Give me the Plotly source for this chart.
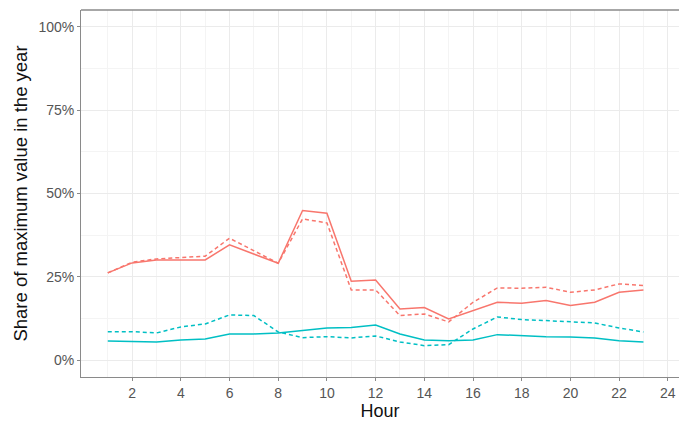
import plotly.graph_objects as go

hours = list(range(1, 24))
red_solid = [26.2, 29.2, 30.1, 30.1, 30.1, 34.6, 31.8, 29.1, 44.9, 44.1, 23.7, 24.1,
             15.4, 15.8, 12.4, 14.9, 17.4, 17.1, 17.9, 16.4, 17.4, 20.4, 21.1]
red_dashed = [26.2, 29.4, 30.4, 30.7, 31.2, 36.6, 32.9, 29.1, 42.4, 41.2, 21.1, 21.1,
              13.4, 13.9, 11.5, 17.4, 21.7, 21.6, 21.9, 20.4, 21.1, 22.9, 22.4]
teal_solid = [5.8, 5.6, 5.5, 6.1, 6.4, 7.9, 7.9, 8.2, 8.9, 9.7, 9.8, 10.6,
              7.9, 6.1, 5.9, 6.1, 7.7, 7.3, 7.1, 7.0, 6.7, 5.9, 5.5]
teal_dashed = [8.6, 8.6, 8.2, 10.0, 10.9, 13.6, 13.4, 8.5, 6.8, 7.1, 6.7, 7.3,
               5.5, 4.4, 4.7, 9.4, 13.0, 12.2, 11.9, 11.6, 11.2, 9.7, 8.5]
x_ticks = [2, 4, 6, 8, 10, 12, 14, 16, 18, 20, 22, 24]
y_ticks = [0, 0.25, 0.5, 0.75, 1.0]
y_tick_labels = ["0%", "25%", "50%", "75%", "100%"]

RED = "#F8766D"
TEAL = "#00BFC4"

fig = go.Figure()
series = [
    (red_solid, RED, "solid"),
    (red_dashed, RED, "4px,3px"),
    (teal_solid, TEAL, "solid"),
    (teal_dashed, TEAL, "4px,3px"),
]
for vals, col, dash in series:
    fig.add_trace(go.Scatter(
        x=hours, y=[v / 100 for v in vals], mode="lines",
        line=dict(color=col, width=1.5, dash=dash),
        showlegend=False, hoverinfo="skip"))

grid = "#ebebeb"
border = "#8a8a8a"
fig.update_layout(
    width=679, height=422,
    margin=dict(l=81, r=0, t=10, b=45),
    paper_bgcolor="white", plot_bgcolor="white",
    font=dict(family="Liberation Sans, Arial, sans-serif", color="#555555"),
    xaxis=dict(
        range=[-0.1, 24.46], tickvals=x_ticks, ticktext=[str(t) for t in x_ticks],
        showgrid=True, gridcolor=grid, gridwidth=1,
        minor=dict(tickvals=list(range(1, 25, 2)), showgrid=True, gridcolor="#f4f4f4", gridwidth=1),
        showline=True, linecolor=border, linewidth=1,
        ticks="outside", ticklen=3, tickcolor=border, tickwidth=1,
        tickfont=dict(size=14, color="#555555"),
        title=dict(text="Hour", font=dict(size=18, color="#111111"), standoff=1),
        zeroline=False,
    ),
    yaxis=dict(
        range=[-0.05, 1.05], tickvals=y_ticks, ticktext=y_tick_labels,
        showgrid=True, gridcolor=grid, gridwidth=1,
        minor=dict(tickvals=[0.125, 0.375, 0.625, 0.875], showgrid=True, gridcolor="#f4f4f4", gridwidth=1),
        showline=True, linecolor=border, linewidth=1,
        ticks="outside", ticklen=3, tickcolor=border, tickwidth=1,
        tickfont=dict(size=14, color="#555555"),
        title=dict(text="Share of maximum value in the year", font=dict(size=18.5, color="#111111"), standoff=5),
        zeroline=False,
    ),
    shapes=[dict(type="line", xref="paper", yref="paper", x0=0, x1=1, y0=1, y1=1,
                 line=dict(color=border, width=1.5))],
)

fig.write_html("out.html")
